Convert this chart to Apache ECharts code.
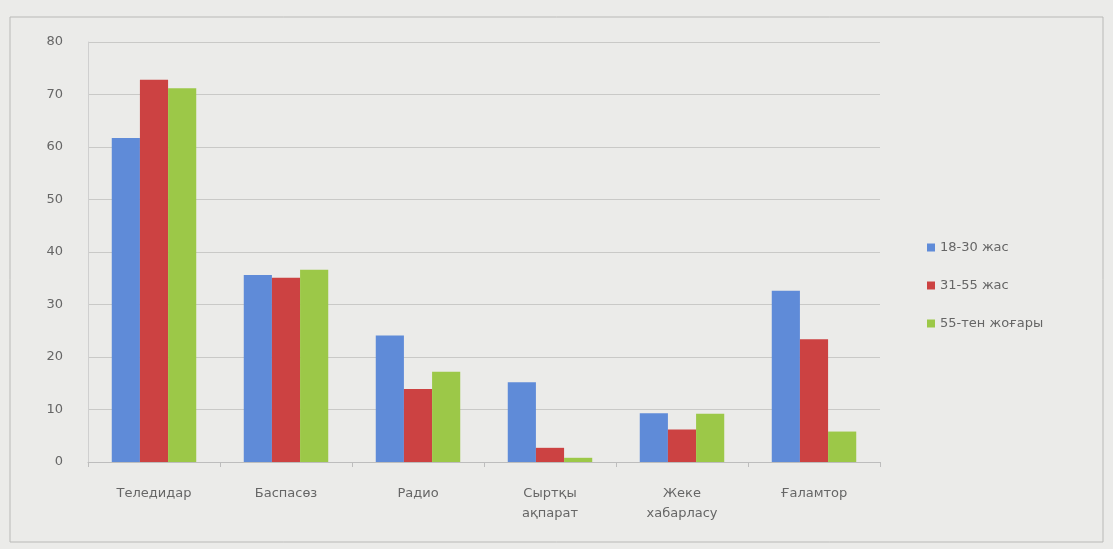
<!DOCTYPE html>
<html>
<head>
<meta charset="utf-8">
<script src="https://cdn.jsdelivr.net/npm/echarts@6/dist/echarts.min.js"></script>
<style>
  html, body { margin: 0; padding: 0; background: #ebebe9; }
  #chart { width: 1113px; height: 549px; }
</style>
</head>
<body>
<div id="chart"></div>
<script>
(function () {
  "use strict";

  var categories = ["Теледидар", "Баспасөз", "Радио", "Сыртқы\nақпарат", "Жеке\nхабарласу", "Ғаламтор"];
  var seriesNames = ["18-30 жас", "31-55 жас", "55-тен жоғары"];
  var young = [61.7, 35.6, 24.1, 15.2, 9.3, 32.6];
  var middle = [72.8, 35.1, 13.9, 2.7, 6.2, 23.4];
  var older = [71.2, 36.6, 17.2, 0.8, 9.2, 5.8];

  var TEXT = "#666666";
  var FONT = "DejaVu Sans, sans-serif";
  var COLORS = ["#5f8bd8", "#cc4242", "#9cc848"];

  var chart = echarts.init(document.getElementById("chart"));

  function bar(name, data, color) {
    return {
      name: name,
      type: "bar",
      data: data,
      barGap: "0%",
      barCategoryGap: "36%",
      itemStyle: { color: color },
    };
  }

  chart.setOption({
    backgroundColor: "#ebebe9",
    animation: false,
    textStyle: { fontFamily: FONT, color: TEXT },
    graphic: [{
      type: "rect",
      shape: { x: 10, y: 17, width: 1093, height: 525 },
      style: { fill: "none", stroke: "#b9b9b7", lineWidth: 1 },
      silent: true,
    }],
    grid: { left: 88, right: 233, top: 42, bottom: 87 },
    legend: {
      orient: "vertical",
      left: 922,
      top: 236,
      itemGap: 25,
      itemWidth: 8,
      itemHeight: 8,
      icon: "rect",
      textStyle: { color: TEXT, fontSize: 13, fontFamily: FONT },
      data: seriesNames,
    },
    xAxis: {
      type: "category",
      data: categories,
      axisLine: { lineStyle: { color: "#bdbdbd" } },
      axisTick: { show: true, lineStyle: { color: "#bdbdbd" }, length: 5 },
      axisLabel: { color: TEXT, fontSize: 13, margin: 22, lineHeight: 20, interval: 0 },
    },
    yAxis: {
      type: "value",
      min: 0,
      max: 80,
      interval: 10,
      axisLine: { show: true, lineStyle: { color: "#cfcfcf" } },
      axisTick: { show: false },
      axisLabel: { color: TEXT, fontSize: 13, margin: 25 },
      splitLine: { lineStyle: { color: "#c9c9c7" } },
    },
    series: [
      bar(seriesNames[0], young, COLORS[0]),
      bar(seriesNames[1], middle, COLORS[1]),
      bar(seriesNames[2], older, COLORS[2]),
    ],
  });
})();
</script>
</body>
</html>
